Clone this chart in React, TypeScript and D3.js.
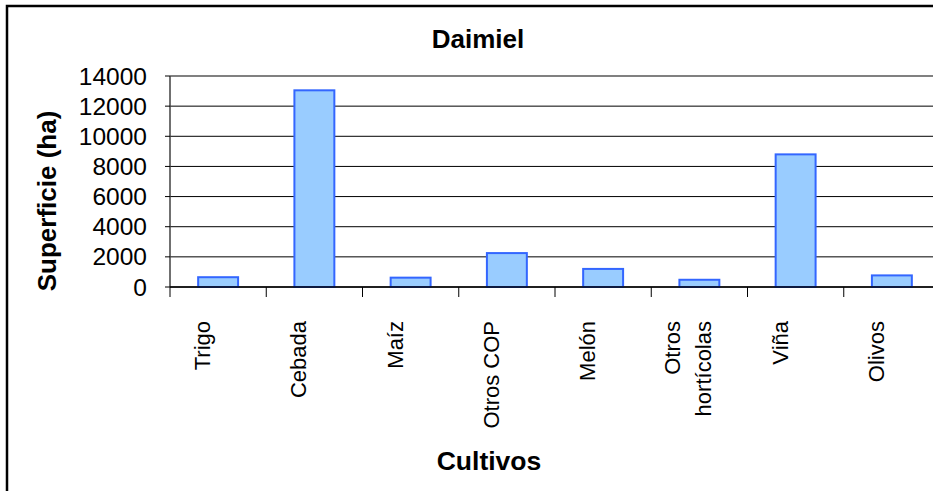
import React from 'react'
import * as d3 from 'd3'

const categories = ['Trigo', 'Cebada', 'Maíz', 'Otros COP', 'Melón', 'Otros hortícolas', 'Viña', 'Olivos']
const values = [650, 13050, 620, 2250, 1200, 480, 8800, 770]
const yTicks = [0, 2000, 4000, 6000, 8000, 10000, 12000, 14000]
// label lines, wrapped like the original
const labelLines = [['Trigo'], ['Cebada'], ['Maíz'], ['Otros COP'], ['Melón'], ['Otros', 'hortícolas'], ['Viña'], ['Olivos']]

const W = 933
const H = 491
const left = 170
const right = 940
const top = 76
const bottom = 287

export default function App() {
  const x = d3.scaleBand<string>().domain(categories).range([left, right]).paddingInner(0).paddingOuter(0)
  const y = d3.scaleLinear().domain([0, 14000]).range([bottom, top])
  const bw = x.bandwidth() * 0.415
  const font = 'Liberation Sans, Arial, sans-serif'

  return (
    <svg width={W} height={H} style={{ position: 'absolute', left: 0, top: 0, background: '#fff' }} fontFamily={font}>
      <rect x={7} y={6} width={950} height={500} fill="#fff" stroke="#000" strokeWidth={2.5} />
      <text x={478} y={48} textAnchor="middle" fontSize={26} fontWeight="bold">Daimiel</text>

      {/* gridlines */}
      {yTicks.map((t) => (
        <line key={'g' + t} x1={left} x2={right} y1={y(t)} y2={y(t)}
          stroke={t === 14000 ? '#808080' : '#000'} strokeWidth={t === 14000 ? 2 : 1} />
      ))}
      {/* y axis */}
      <line x1={left} x2={left} y1={top} y2={bottom} stroke="#404040" strokeWidth={1.5} />
      {yTicks.map((t) => (
        <g key={'t' + t}>
          <line x1={left - 5} x2={left} y1={y(t)} y2={y(t)} stroke="#000" />
          <text x={147} y={y(t)} dy="0.35em" textAnchor="end" fontSize={24.5}>{t}</text>
        </g>
      ))}
      <text transform={`translate(47,201) rotate(-90)`} dy="0.35em" textAnchor="middle"
        fontSize={26} fontWeight="bold">Superficie (ha)</text>

      {/* bars */}
      {categories.map((c, i) => (
        <rect key={c} x={x(c)! + (x.bandwidth() - bw) / 2} y={y(values[i])} width={bw} height={y(0) - y(values[i])}
          fill="#99CCFF" stroke="#3366FF" strokeWidth={2} />
      ))}

      {/* x axis */}
      <line x1={left} x2={right} y1={bottom} y2={bottom} stroke="#000" strokeWidth={1.5} />
      {categories.map((c) => (
        <line key={'xt' + c} x1={x(c)!} x2={x(c)!} y1={bottom} y2={bottom + 10} stroke="#000" />
      ))}
      {categories.map((c, i) => {
        const cx = x(c)! + x.bandwidth() / 2
        const lines = labelLines[i]
        const offs = lines.length === 1 ? [-8] : [-19, 12]
        return lines.map((l, j) => (
          <text key={c + j} transform={`translate(${cx + offs[j]},321) rotate(-90)`} textAnchor="end" fontSize={22}>{l}</text>
        ))
      })}

      <text x={489} y={470} textAnchor="middle" fontSize={26.5} fontWeight="bold">Cultivos</text>
    </svg>
  )
}
